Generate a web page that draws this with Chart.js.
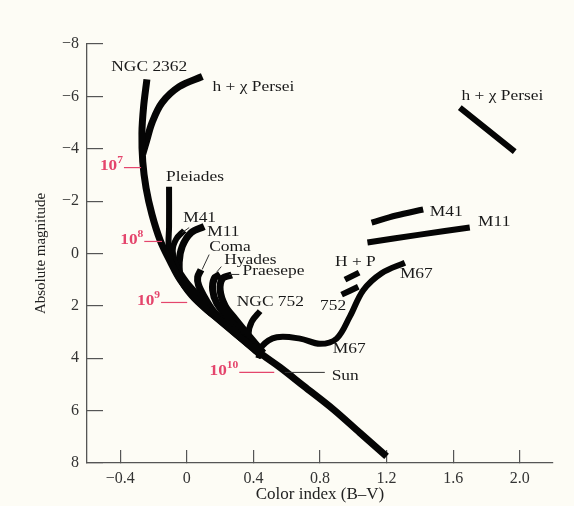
<!DOCTYPE html>
<html>
<head>
<meta charset="utf-8">
<title>Cluster HR diagram</title>
<script src="https://cdn.jsdelivr.net/npm/chart.js@4.4.1/dist/chart.umd.min.js"></script>
<style>
  html, body { margin: 0; padding: 0; background: #fdfcf5; }
  #wrap { width: 574px; height: 506px; }
</style>
</head>
<body>
<div id="wrap"><canvas id="hrChart"></canvas></div>
<script>
// tick values and their printed labels
const xTicks = [-0.4, 0, 0.4, 0.8, 1.2, 1.6, 2.0];
const xTickLabels = ['\u22120.4', '0', '0.4', '0.8', '1.2', '1.6', '2.0'];
const yTicks = [-8, -6, -4, -2, 0, 2, 4, 6, 8];
const yTickLabels = ['\u22128', '\u22126', '\u22124', '\u22122', '0', '2', '4', '6', '8'];

// main sequence (NGC 2362 down to the lower main sequence)
const msBV  = [-0.24, -0.26, -0.27, -0.265, -0.245, -0.21, -0.16, -0.10, -0.04, 0.05, 0.15, 0.30, 0.45, 0.56, 0.70, 0.88, 1.04, 1.20];
const msMag = [-6.65, -5.6, -4.6, -3.5, -2.5, -1.5, -0.5, 0.3, 1.0, 1.7, 2.3, 3.1, 3.85, 4.35, 5.05, 5.95, 6.85, 7.75];

// turnoff branches of each cluster
const persBV   = [0.093, -0.046, -0.149, -0.209, -0.242, -0.265];
const persMag  = [-6.76, -6.37, -5.76, -5.0, -4.3, -3.8];
const pleiBV   = [-0.107, -0.107, -0.11, -0.10, -0.05];
const pleiMag  = [-2.55, -1.0, -0.4, 0.2, 0.9];
const m41BV    = [-0.016, -0.064, -0.085, -0.06, 0.0, 0.1];
const m41Mag   = [-0.88, -0.55, -0.1, 0.5, 1.1, 1.8];
const m11BV    = [0.104, 0.026, -0.028, -0.046, -0.035, 0.03, 0.13, 0.20, 0.32, 0.42];
const m11Mag   = [-1.03, -0.8, -0.27, 0.34, 0.99, 1.6, 2.2, 2.55, 3.2, 3.75];
const comaBV   = [0.085, 0.065, 0.07, 0.10, 0.16, 0.23, 0.33, 0.42];
const comaMag  = [0.62, 0.9, 1.2, 1.6, 2.2, 2.6, 3.2, 3.7];
const hyaBV    = [0.20, 0.165, 0.155, 0.18, 0.26, 0.36, 0.44];
const hyaMag   = [0.8, 0.95, 1.4, 1.9, 2.55, 3.2, 3.75];
const praeBV   = [0.27, 0.215, 0.20, 0.23, 0.29, 0.38, 0.46];
const praeMag  = [0.82, 0.95, 1.4, 2.0, 2.5, 3.2, 3.8];
const n752BV   = [0.44, 0.39, 0.37, 0.39, 0.45];
const n752Mag  = [2.2, 2.6, 3.1, 3.55, 3.95];
const m67BV    = [0.43, 0.45, 0.54, 0.68, 0.80, 0.90, 0.98, 1.06, 1.17, 1.31];
const m67Mag   = [4.0, 3.55, 3.2, 3.25, 3.45, 3.25, 2.4, 1.4, 0.75, 0.35];

// red giant clumps
const hpBV      = [0.95, 1.035];
const hpMag     = [1.0, 0.73];
const g752BV    = [0.93, 1.03];
const g752Mag   = [1.57, 1.27];
const gM41BV    = [1.11, 1.257, 1.42];
const gM41Mag   = [-1.18, -1.45, -1.68];
const gM11BV    = [1.085, 1.40, 1.70];
const gM11Mag   = [-0.42, -0.72, -0.99];
const gPersBV   = [1.64, 1.97];
const gPersMag  = [-5.57, -3.89];

// age markers: exponent, magnitude, marker line start/end in B-V
const ageExp   = ['7', '8', '9', '10'];
const ageMag   = [-3.28, -0.46, 1.87, 4.54];
const ageFrom  = [-0.378, -0.256, -0.155, 0.315];
const ageTo    = [-0.275, -0.149, 0.002, 0.525];

const pts = (xs, ys) => xs.map((x, i) => ({ x: x, y: ys[i] }));

function curve(xs, ys, width) {
  return {
    data: pts(xs, ys),
    showLine: true,
    borderColor: '#050505',
    borderWidth: width || 7,
    borderCapStyle: 'butt',
    borderJoinStyle: 'round',
    pointRadius: 0,
    tension: 0.35,
    fill: false
  };
}

// cluster names, placed in data units
const clusterLabels = [
  { t: 'NGC 2362', x: -0.226, y: -7.1, a: 'center' },
  { t: 'h + \u03c7 Persei', x: 0.154, y: -6.34, a: 'left' },
  { t: 'h + \u03c7 Persei', x: 1.65, y: -6.0, a: 'left' },
  { t: 'Pleiades', x: -0.125, y: -2.9, a: 'left' },
  { t: 'M41', x: -0.022, y: -1.34, a: 'left' },
  { t: 'M11', x: 0.122, y: -0.8, a: 'left' },
  { t: 'Coma', x: 0.134, y: -0.23, a: 'left' },
  { t: 'Hyades', x: 0.225, y: 0.27, a: 'left' },
  { t: 'Praesepe', x: 0.335, y: 0.69, a: 'left' },
  { t: 'NGC 752', x: 0.30, y: 1.87, a: 'left' },
  { t: 'H + P', x: 0.89, y: 0.34, a: 'left' },
  { t: 'M67', x: 1.28, y: 0.8, a: 'left' },
  { t: '752', x: 0.80, y: 2.02, a: 'left' },
  { t: 'M67', x: 0.877, y: 3.66, a: 'left' },
  { t: 'Sun', x: 0.87, y: 4.69, a: 'left' },
  { t: 'M41', x: 1.46, y: -1.56, a: 'left' },
  { t: 'M11', x: 1.75, y: -1.18, a: 'left' }
];

// thin pointer lines from names to branches
const leaders = [
  [0.014, -0.99, -0.028, -0.8],
  [0.134, 0.04, 0.092, 0.61],
  [0.207, 0.5, 0.178, 0.72],
  [0.255, 0.8, 0.315, 0.8],
  [0.588, 4.54, 0.829, 4.54]
];

const paper = {
  id: 'paper',
  beforeDraw(chart) {
    const c = chart.ctx;
    c.save();
    c.fillStyle = '#fdfcf5';
    c.fillRect(0, 0, chart.width, chart.height);
    c.restore();
  }
};

// text is printed a little wide, like the old book typeface
function wideText(c, text, x, y, stretch) {
  c.save();
  c.translate(x, y);
  c.scale(stretch, 1);
  c.fillText(text, 0, 0);
  c.restore();
}

const notes = {
  id: 'notes',
  afterDatasetsDraw(chart) {
    const c = chart.ctx;
    const sx = chart.scales.x, sy = chart.scales.y;
    c.save();
    c.textBaseline = 'middle';

    // age marks in red
    c.strokeStyle = '#e4456c';
    c.fillStyle = '#e4456c';
    c.lineWidth = 1.2;
    ageMag.forEach((m, i) => {
      const y = sy.getPixelForValue(m);
      const x0 = sx.getPixelForValue(ageFrom[i]);
      const x1 = sx.getPixelForValue(ageTo[i]);
      c.beginPath();
      c.moveTo(x0, y);
      c.lineTo(x1, y);
      c.stroke();
      c.font = '10px "Liberation Serif"';
      const ew = c.measureText(ageExp[i]).width * 1.15;
      c.font = '600 15px "Liberation Serif"';
      c.textAlign = 'right';
      wideText(c, '10', x0 - ew - 1, y - 1, 1.15);
      c.font = '600 10px "Liberation Serif"';
      c.textAlign = 'left';
      wideText(c, ageExp[i], x0 - ew - 1, y - 7, 1.15);
    });

    // pointer lines
    c.strokeStyle = '#333';
    c.lineWidth = 1;
    leaders.forEach(l => {
      c.beginPath();
      c.moveTo(sx.getPixelForValue(l[0]), sy.getPixelForValue(l[1]));
      c.lineTo(sx.getPixelForValue(l[2]), sy.getPixelForValue(l[3]));
      c.stroke();
    });

    // cluster names
    c.fillStyle = '#1a1a1a';
    c.font = '14.5px "Liberation Serif"';
    clusterLabels.forEach(l => {
      c.textAlign = l.a;
      wideText(c, l.t, sx.getPixelForValue(l.x), sy.getPixelForValue(l.y), 1.2);
    });
    c.restore();
  }
};

const serif = '"Liberation Serif", "DejaVu Serif", serif';

new Chart(document.getElementById('hrChart'), {
  type: 'scatter',
  data: {
    datasets: [
      curve(msBV, msMag, 7),
      curve(persBV, persMag, 7),
      curve(pleiBV, pleiMag, 6),
      curve(m41BV, m41Mag, 6),
      curve(m11BV, m11Mag, 7),
      curve(comaBV, comaMag, 7),
      curve(hyaBV, hyaMag, 7),
      curve(praeBV, praeMag, 7),
      curve(n752BV, n752Mag, 6),
      curve(m67BV, m67Mag, 6),
      curve(hpBV, hpMag, 6),
      curve(g752BV, g752Mag, 6),
      curve(gM41BV, gM41Mag, 6),
      curve(gM11BV, gM11Mag, 6),
      curve(gPersBV, gPersMag, 6)
    ]
  },
  options: {
    responsive: true,
    maintainAspectRatio: false,
    animation: false,
    devicePixelRatio: 1,
    layout: { padding: { top: 44, right: 21, left: 0, bottom: 0 } },
    plugins: {
      legend: { display: false },
      tooltip: { enabled: false }
    },
    scales: {
      x: {
        type: 'linear',
        min: -0.6,
        max: 2.2,
        afterBuildTicks: s => { s.ticks = xTicks.map(v => ({ value: v })); },
        afterFit: s => { s.height = 43; },
        ticks: {
          callback: (v, i) => xTickLabels[i],
          color: '#333',
          padding: 19,
          maxRotation: 0,
          font: { family: serif, size: 16 }
        },
        grid: { drawOnChartArea: false, tickLength: -13, color: '#555', lineWidth: 1.2 },
        border: { color: '#555', width: 1.3 },
        title: {
          display: true,
          text: 'Color index (B\u2013V)',
          color: '#222',
          padding: { top: 0, bottom: 1 },
          font: { family: serif, size: 17 }
        }
      },
      y: {
        type: 'linear',
        reverse: true,
        min: -8,
        max: 8,
        afterBuildTicks: s => { s.ticks = yTicks.map(v => ({ value: v })); },
        afterFit: s => { s.width = 87; },
        ticks: {
          callback: (v, i) => yTickLabels[i],
          color: '#333',
          padding: 24,
          font: { family: serif, size: 16 }
        },
        grid: { drawOnChartArea: false, tickLength: -16, color: '#555', lineWidth: 1.2 },
        border: { color: '#555', width: 1.3 },
        title: {
          display: true,
          text: 'Absolute magnitude',
          color: '#222',
          padding: { top: 32, bottom: 0 },
          font: { family: serif, size: 15 }
        }
      }
    }
  },
  plugins: [paper, notes]
});
</script>
</body>
</html>
